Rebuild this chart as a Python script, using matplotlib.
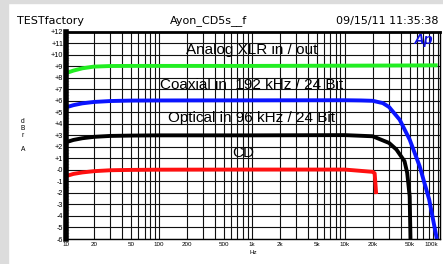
import matplotlib.pyplot as plt
import numpy as np
from matplotlib.patches import Rectangle

plt.rcParams['font.family'] = ['Liberation Sans', 'DejaVu Sans']

# Curvas de respuesta en frecuencia (Hz, dBr)
analog_f = [10, 12, 15, 20, 30, 50, 100, 1000, 10000, 50000, 100000]
analog_db = [8.40, 8.62, 8.82, 8.97, 9.02, 9.03, 9.03, 9.03, 9.05, 9.07, 9.08]

coax_f = [10, 12, 15, 20, 30, 50, 100, 1000, 10000, 15000, 20000, 25700,
          30000, 39000, 50000, 64000, 81000, 98000]
coax_db = [5.43, 5.62, 5.78, 5.90, 5.98, 6.02, 6.03, 6.04, 6.05, 6.03, 6.00,
           5.80, 5.46, 4.36, 2.63, 0.32, -2.56, -6.0]

optical_f = [10, 12, 15, 20, 30, 50, 100, 1000, 10000, 20000, 30000, 36000,
             44000, 47000, 50000, 51000]
optical_db = [2.40, 2.60, 2.75, 2.87, 2.95, 2.98, 3.0, 3.0, 3.02, 2.92, 2.34,
              1.77, 0.75, -0.25, -2.3, -6.0]

cd_f = [10, 12, 15, 20, 30, 50, 100, 1000, 10000, 20000, 21000, 21800]
cd_db = [-0.54, -0.35, -0.22, -0.11, -0.03, 0.0, 0.02, 0.03, 0.03, -0.17,
         -0.30, -2.1]

x_major = [10, 20, 50, 100, 200, 500, 1000, 2000, 5000, 10000, 20000, 50000, 100000]
x_labels = ['10', '20', '50', '100', '200', '500', '1k', '2k', '5k', '10k', '20k', '50k', '100k']
y_ticks = list(range(-6, 13))
y_labels = [('+%d' % v if v > 0 else '-%d' % abs(v)) for v in y_ticks]

fig = plt.figure(figsize=(4.43, 2.64), dpi=100)
fig.patches.append(Rectangle((0, 0), 8 / 443, 1, transform=fig.transFigure,
                             color='#dcdcdc', zorder=0))
fig.patches.append(Rectangle((0, 1 - 3 / 264), 1, 3 / 264, transform=fig.transFigure,
                             color='#dcdcdc', zorder=0))

ax = fig.add_axes([66 / 443, 1 - 239 / 264, 374 / 443, 207.3 / 264])
ax.set_xscale('log')
ax.set_xlim(10, 106000)
ax.set_ylim(-6, 12)

# Rejilla
minor = [m * 10 ** d for d in range(1, 5) for m in range(1, 10)] + [100000]
ax.set_xticks(minor, minor=True)
ax.set_xticks(x_major)
ax.set_xticklabels(x_labels, fontsize=4.5)
ax.get_xticklabels()[-1].set_ha('right')
ax.xaxis.set_minor_formatter(plt.NullFormatter())
ax.set_yticks(y_ticks)
ax.set_yticklabels(y_labels, fontsize=5.2)
ax.set_yticks(np.arange(-6, 12.01, 0.25), minor=True)
ax.tick_params(which='major', length=0, pad=2)
ax.tick_params(axis='x', which='minor', length=0)
ax.tick_params(axis='y', which='minor', direction='in', length=2.5, width=0.4,
               color='#bbbbbb')
ax.grid(which='both', axis='x', color='#111111', linewidth=0.8)
ax.grid(which='major', axis='y', color='#111111', linewidth=0.8)
ax.set_axisbelow(True)

for s in ax.spines.values():
    s.set_color('black')
    s.set_linewidth(1)
ax.spines['left'].set_linewidth(4)
ax.spines['top'].set_linewidth(2)

ax.plot(analog_f, analog_db, color='#22ee22', linewidth=2.8, solid_capstyle='butt')
ax.plot(coax_f, coax_db, color='#0a14ff', linewidth=2.8, solid_capstyle='butt')
ax.plot(optical_f, optical_db, color='black', linewidth=2.8, solid_capstyle='butt')
ax.plot(cd_f, cd_db, color='#ff1010', linewidth=2.8, solid_capstyle='butt')

ax.text(1000, 10.42, 'Analog XLR in / out', ha='center', va='center', fontsize=11)
ax.text(1000, 7.39, 'Coaxial in  192 kHz / 24 Bit', ha='center', va='center', fontsize=11)
ax.text(1000, 4.53, 'Optical in 96 kHz / 24 Bit', ha='center', va='center', fontsize=11)
ax.text(800, 1.51, 'CD', ha='center', va='center', fontsize=11)

ax.text(0.981, 0.995, 'Ap', transform=ax.transAxes, ha='right', va='top',
        fontsize=10.5, color='#1010e0', fontweight='bold', style='italic')

fig.text(17 / 443, 1 - 21 / 264, 'TESTfactory', ha='left', va='center',
         fontsize=8, family='DejaVu Sans')
fig.text(209 / 443, 1 - 21 / 264, 'Ayon_CD5s__f', ha='center', va='center',
         fontsize=8, family='DejaVu Sans')
fig.text(439 / 443, 1 - 21 / 264, '09/15/11 11:35:38', ha='right', va='center',
         fontsize=8, family='DejaVu Sans')

fig.text(253 / 443, 1 - 253 / 264, 'Hz', ha='center', va='center', fontsize=4.5)
fig.text(22.7 / 443, 1 - 135.5 / 264, 'd\nB\nr\n\nA', ha='center', va='center',
         fontsize=4.8, linespacing=1.0)

fig.savefig('out.png', dpi=100)
